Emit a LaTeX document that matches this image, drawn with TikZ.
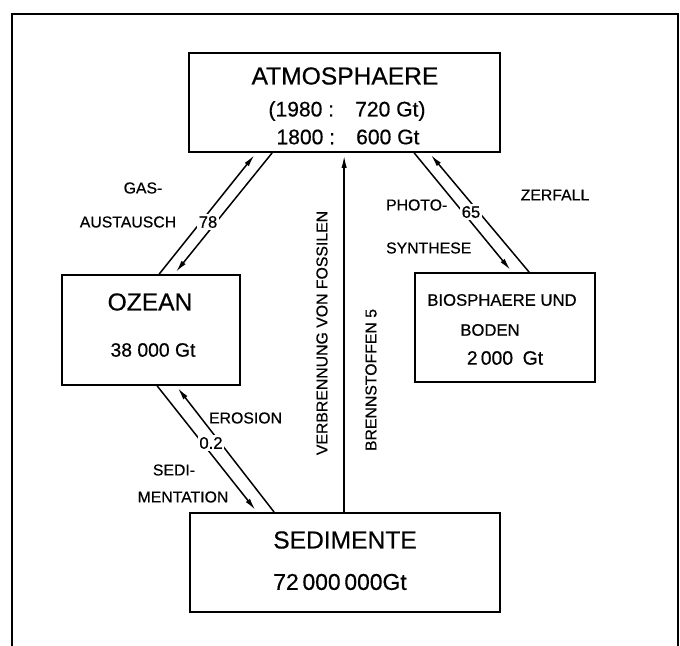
\documentclass[tikz,border=0pt]{standalone}
\usepackage{fontspec}
\setmainfont{Liberation Sans}[FakeBold=0.5]
\usetikzlibrary{arrows.meta, calc}

\tikzset{
    box/.style={draw, line width=1pt, inner sep=0pt},
    flow/.style={line width=0.85pt, -{Latex[length=7pt, width=3pt]}, shorten >=1.5pt},
    head/.style={font=\fontsize{14}{16}\selectfont},
    amount/.style={font=\fontsize{12}{14}\selectfont},
    small/.style={font=\fontsize{9.5}{11}\selectfont},
    side/.style={font=\fontsize{9}{10}\selectfont, inner sep=1pt},
    gap/.style={fill=white, inner sep=1pt, font=\fontsize{9.5}{10}\selectfont},
}

\begin{document}
\begin{tikzpicture}[x=0.02cm, y=-0.02cm]
    \useasboundingbox (0,0) rectangle (680,646);
    \draw[line width=1pt] (12,650) -- (12,14) -- (678,14) -- (678,650);

    % reservoirs
    \node[box, minimum width=6.22cm, minimum height=1.98cm] (atm) at (344.5,102.5) {};
    \node[box, minimum width=3.56cm, minimum height=2.2cm] (ocean) at (151,330) {};
    \node[box, minimum width=3.6cm, minimum height=2.18cm] (bio) at (505,327.5) {};
    \node[box, minimum width=6.2cm, minimum height=1.98cm] (sed) at (345,562.5) {};

    \node[head] (atmname) at (345,76) {ATMOSPHAERE};
    \node[amount] (atm1980) at (347,111) {(1980 :\quad 720 Gt)};
    \node[amount] (atm1800) at (348,137) {1800 :\quad 600 Gt};

    \node[head] (oceanname) at (150,302) {OZEAN};
    \node[amount, font=\fontsize{11}{13}\selectfont] (oceanval) at (153,350) {38 000 Gt};

    \node[small] (bioname) at (502,300) {BIOSPHAERE UND};
    \node[small] (bioname2) at (490,330) {BODEN};
    \node[amount, font=\fontsize{11}{13}\selectfont] (bioval) at (505,358) {2\,000\enspace Gt};

    \node[head] (sedname) at (345,540) {SEDIMENTE};
    \node[amount, font=\fontsize{13}{15}\selectfont] (sedval) at (340,582) {72\,000\,000Gt};

    % end points on the boxes
    \coordinate (ogasa) at ($(ocean.north west)+(98,0)$);
    \coordinate (ogasb) at ($(ocean.north west)+(113,0)$);
    \coordinate (agasa) at ($(atm.south west)+(68,0)$);
    \coordinate (agasb) at ($(atm.south west)+(84,0)$);
    \coordinate (aphoa) at ($(atm.south west)+(226,0)$);
    \coordinate (aphob) at ($(atm.south west)+(241,0)$);
    \coordinate (bphoa) at ($(bio.north west)+(98,0)$);
    \coordinate (bphob) at ($(bio.north west)+(115,0)$);
    \coordinate (osea) at ($(ocean.south west)+(96,0)$);
    \coordinate (oseb) at ($(ocean.south west)+(115,0)$);
    \coordinate (ssea) at ($(sed.north west)+(68,0)$);
    \coordinate (sseb) at ($(sed.north west)+(85,0)$);
    \coordinate (sfos) at ($(sed.north west)+(155,0)$);

    % fluxes
    \draw[flow] (ogasa) -- (agasa);
    \draw[flow] (agasb) -- (ogasb);
    \draw[flow] (aphoa) -- (bphoa);
    \draw[flow] (bphob) -- (aphob);
    \draw[flow] (osea) -- (ssea);
    \draw[flow] (sseb) -- (oseb);
    \draw[flow] (sfos) -- (sfos |- atm.south);

    \node[gap] (gas) at (208,222) {78};
    \node[gap] (pho) at (471,212) {65};
    \node[gap] (ero) at (211,443) {0.2};

    % labels
    \node[side] (gaslab) at (143,188) {GAS-};
    \node[side] (gaslab2) at (128,222) {AUSTAUSCH};
    \node[side, anchor=west] (pholab) at (384,205) {PHOTO-};
    \node[side, anchor=west] (pholab2) at (384,248) {SYNTHESE};
    \node[side] (zerlab) at (555,195) {ZERFALL};
    \node[side, anchor=west] (erolab) at (207,418) {EROSION};
    \node[side] (sedlab) at (174,470) {SEDI-};
    \node[side] (sedlab2) at (183,497) {MENTATION};
    \node[side, rotate=90] (foslab) at (322,333) {VERBRENNUNG VON FOSSILEN};
    \node[side, rotate=90] (foslab2) at (371,380) {BRENNSTOFFEN 5};
\end{tikzpicture}
\end{document}
